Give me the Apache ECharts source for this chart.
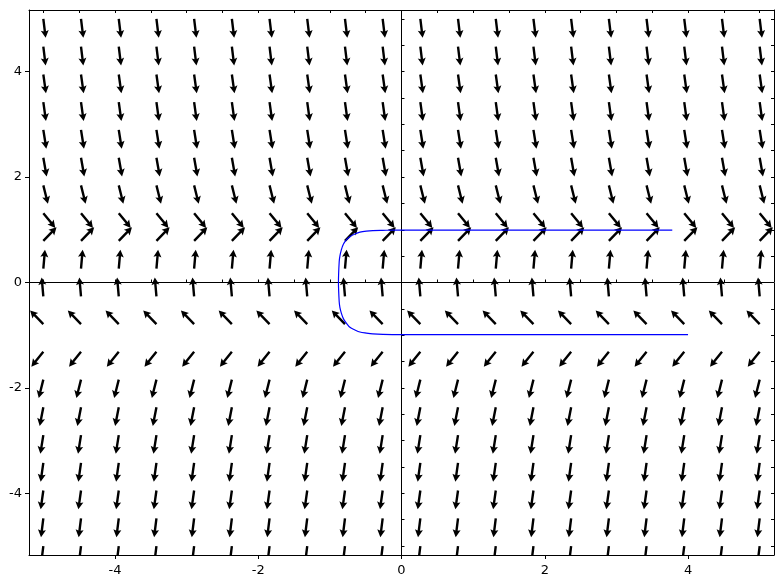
<!DOCTYPE html>
<html><head><meta charset="utf-8">
<script src="https://cdn.jsdelivr.net/npm/echarts@6/dist/echarts.min.js"></script>
<style>html,body{margin:0;padding:0;background:#fff}#c{width:783px;height:585px}</style>
</head><body><div id="c"></div>
<script>
// grid of arrow tails (x columns, y rows)
const gridX = [-5, -4.474, -3.947, -3.421, -2.895, -2.368, -1.842, -1.316, -0.789, -0.263, 0.263, 0.789, 1.316, 1.842, 2.368, 2.895, 3.421, 3.947, 4.474, 5];
const gridY = [-5, -4.474, -3.947, -3.421, -2.895, -2.368, -1.842, -1.316, -0.789, -0.263, 0.263, 0.789, 1.316, 1.842, 2.368, 2.895, 3.421, 3.947, 4.474, 5];
// on-screen arrow direction of each row (degrees, counter-clockwise from +x)
const rowAngles = [-97, -97, -98, -98, -99, -101, -104, -129, 134, 95, 85, 46, -51, -76, -80, -81, -82, -82, -83, -83];
// solution curve
const curveX = [3.78, 2.0, 0.0, -0.07, -0.26, -0.40, -0.49, -0.58, -0.65, -0.72, -0.77, -0.81, -0.84, -0.86, -0.87, -0.88, -0.87, -0.86, -0.84, -0.81, -0.77, -0.72, -0.65, -0.58, -0.49, -0.40, -0.26, 0.0, 2.0, 4.0];
const curveY = [0.995, 0.995, 0.995, 0.995, 0.99, 0.985, 0.975, 0.955, 0.92, 0.87, 0.81, 0.73, 0.62, 0.50, 0.39, 0.01, -0.36, -0.47, -0.58, -0.69, -0.77, -0.85, -0.90, -0.94, -0.96, -0.975, -0.985, -0.99, -0.99, -0.99];
const xTickLabels = [-4, -2, 0, 2, 4];
const yTickLabels = [-4, -2, 0, 2, 4];
const minorTicks = [-5, -4.5, -4, -3.5, -3, -2.5, -2, -1.5, -1, -0.5, 0, 0.5, 1, 1.5, 2, 2.5, 3, 3.5, 4, 4.5, 5];

const XMIN = -5.2, XMAX = 5.2, YMIN = -5.17, YMAX = 5.17;

const arrowData = [];
gridY.forEach((y, i) => gridX.forEach(x => arrowData.push([x, y, rowAngles[i]])));
const curveData = curveX.map((x, i) => [x, curveY[i]]);

const font = {color: '#000', fontSize: 13, fontFamily: 'DejaVu Sans'};
function mkX(pos, opts) {
  return Object.assign({
    type: 'value', position: pos, min: XMIN, max: XMAX,
    axisLine: {show: false, lineStyle: {color: '#000', width: 1}},
    axisLabel: {show: false}, axisTick: {show: false}, splitLine: {show: false}
  }, opts);
}
function mkY(pos, opts) {
  return Object.assign({
    type: 'value', position: pos, min: YMIN, max: YMAX,
    axisLine: {show: false, lineStyle: {color: '#000', width: 1}},
    axisLabel: {show: false}, axisTick: {show: false}, splitLine: {show: false}
  }, opts);
}

const chart = echarts.init(document.getElementById('c'), null, {renderer: 'canvas'});
chart.setOption({
  animation: false,
  backgroundColor: '#fff',
  grid: {left: 29, right: 9, top: 10, bottom: 30, containLabel: false},
  xAxis: [
    mkX('bottom', {axisLine: {show: true, onZero: false, lineStyle: {color: '#000', width: 1}},
      axisLabel: {show: true, customValues: xTickLabels, margin: 9, ...font},
      axisTick: {show: true, customValues: xTickLabels, inside: false, length: 4, lineStyle: {color: '#000'}}}),
    mkX('bottom', {axisTick: {show: true, customValues: minorTicks, inside: true, length: 3, lineStyle: {color: '#000'}}}),
    mkX('top', {axisLine: {show: true, onZero: false, lineStyle: {color: '#000', width: 1}},
      axisTick: {show: true, customValues: minorTicks, inside: true, length: 3, lineStyle: {color: '#000'}}})
  ],
  yAxis: [
    mkY('left', {axisLine: {show: true, onZero: false, lineStyle: {color: '#000', width: 1}},
      axisLabel: {show: true, customValues: yTickLabels, margin: 7, ...font},
      axisTick: {show: true, customValues: yTickLabels, inside: false, length: 4, lineStyle: {color: '#000'}}}),
    mkY('left', {axisTick: {show: true, customValues: minorTicks, inside: true, length: 3, lineStyle: {color: '#000'}}}),
    mkY('right', {axisLine: {show: true, onZero: false, lineStyle: {color: '#000', width: 1}},
      axisTick: {show: true, customValues: minorTicks, inside: true, length: 3, lineStyle: {color: '#000'}}})
  ],
  series: [
    {
      type: 'custom', name: 'field', xAxisIndex: 0, yAxisIndex: 0, clip: true, z: 2,
      encode: {x: 0, y: 1},
      data: arrowData,
      renderItem: function (params, api) {
        const p = api.coord([api.value(0), api.value(1)]);
        const a = api.value(2) * Math.PI / 180;
        const dx = Math.cos(a), dy = -Math.sin(a);
        const nx = -dy, ny = dx;
        const L = 19, hl = 7.5, ha = 6.5, sw = 1.2, hw = 4;
        const P = (t, w) => [p[0] + dx * t + nx * w, p[1] + dy * t + ny * w];
        return {
          type: 'polygon',
          shape: {points: [P(0, sw), P(L - ha, sw), P(L - hl, hw), P(L, 0), P(L - hl, -hw), P(L - ha, -sw), P(0, -sw)]},
          style: {fill: '#000', stroke: null}
        };
      },
      markLine: {
        silent: true, symbol: 'none', animation: false,
        label: {show: false},
        lineStyle: {color: '#000', width: 1, type: 'solid'},
        emphasis: {disabled: true},
        data: [{xAxis: 0}, {yAxis: 0}]
      }
    },
    {
      type: 'line', name: 'solution', xAxisIndex: 0, yAxisIndex: 0, z: 5,
      data: curveData, showSymbol: false, symbol: 'none', smooth: 0.3,
      lineStyle: {color: '#0000ff', width: 1.2}
    }
  ]
});
</script>
</body></html>
